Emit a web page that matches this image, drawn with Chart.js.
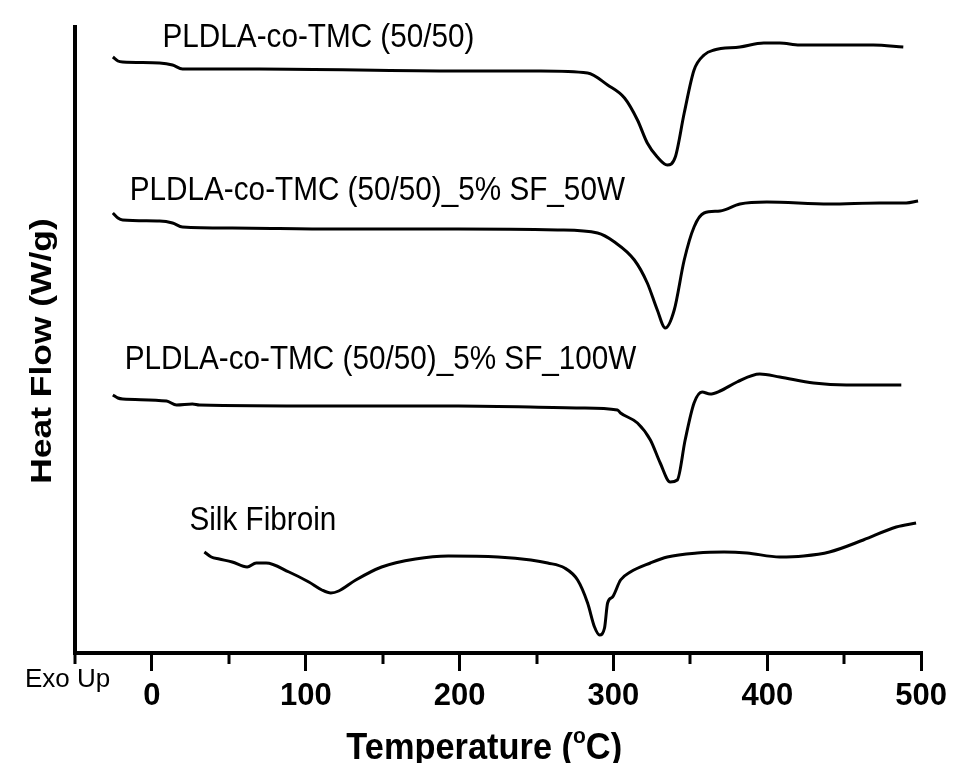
<!DOCTYPE html>
<html>
<head>
<meta charset="utf-8">
<script src="https://cdn.jsdelivr.net/npm/chart.js@4.4.1/dist/chart.umd.min.js"></script>
<style>
html,body{margin:0;padding:0;background:#fff;}
#wrap{width:954px;height:763px;position:relative;}
</style>
</head>
<body>
<div id="wrap"><canvas id="c" width="954" height="763"></canvas></div>
<script>
// ---- Data (Temperature in °C, Heat Flow in arbitrary units, Exo Up) ----
const xMin = -50, xMax = 500;
const yMin = -0.3, yMax = 62.3;
const majorTicks = [0, 100, 200, 300, 400, 500];
const minorTicks = [-50, 50, 150, 250, 350, 450];

const pldlaT  = [-25.4,-22.1,-19.0,5.0,13.4,19.9,69.7,199.1,252.8,283.2,296.2,307.2,315.6,322.0,328.5,335.0,340.2,346.0,352.4,358.9,365.4,382.2,397.7,408.1,421.0,468.9,488.4];
const pldlaHF = [59.3,58.9,58.8,58.7,58.5,58.1,58.1,57.9,57.9,57.7,56.5,55.2,53.0,50.7,49.3,48.5,49.3,53.7,58.0,59.5,60.0,60.3,60.7,60.7,60.5,60.5,60.3];

const sf50T  = [-25.4,-22.1,-19.0,5.0,13.4,19.9,52.2,119.5,199.1,263.8,289.7,300.7,313.6,322.0,328.5,333.7,339.5,346.0,352.4,358.9,369.3,382.2,399.7,440.4,472.8,490.3,498.0];
const sf50HF = [43.7,43.2,43.0,42.9,42.7,42.3,42.2,42.1,42.1,42.0,41.7,40.8,39.0,36.7,34.0,32.2,34.0,39.0,42.3,43.7,43.9,44.6,44.8,44.6,44.7,44.7,44.9];

const sf100T  = [-25.4,-22.1,-19.0,9.5,16.0,26.3,30.9,113.0,199.1,278.7,302.6,304.6,315.6,324.0,330.4,336.9,341.5,346.6,352.4,357.6,362.8,369.3,380.3,395.1,408.1,430.1,451.4,487.1];
const sf100HF = [25.5,25.2,25.1,24.9,24.5,24.6,24.5,24.4,24.4,24.2,24.0,23.7,22.7,21.0,18.7,16.8,17.0,21.0,24.7,25.8,25.6,25.9,26.8,27.6,27.3,26.7,26.5,26.5];

const silkT  = [34.1,38.6,43.8,52.2,61.9,67.8,74.2,89.1,102.0,110.5,116.3,121.4,132.5,149.3,171.3,192.6,225.0,246.3,257.3,268.3,276.7,283.2,287.7,291.0,294.2,296.2,299.4,304.6,311.0,324.0,335.0,354.4,371.9,386.8,408.1,423.6,440.4,462.4,483.8,496.7];
const silkHF = [9.8,9.3,9.1,8.8,8.3,8.7,8.7,7.8,6.8,6.0,5.7,5.9,7.0,8.3,9.1,9.4,9.3,9.0,8.7,8.2,7.0,4.7,2.3,1.5,2.2,4.7,5.3,7.0,7.8,8.7,9.3,9.7,9.8,9.7,9.3,9.4,9.8,11.0,12.3,12.7];

const seriesNames = ["PLDLA-co-TMC (50/50)", "PLDLA-co-TMC (50/50)_5% SF_50W", "PLDLA-co-TMC (50/50)_5% SF_100W", "Silk Fibroin"];
// label anchor (left edge / baseline) in data units
const labelT  = [6.9, -14.4, -17.7, 24.4];
const labelHF = [60.3, 45.0, 28.1, 12.0];

const xTitle = "Temperature (";
const yTitle = "Heat Flow (W/g)";
const cornerNote = "Exo Up";

function pts(xs, ys){ return xs.map((v,i)=>({x:v, y:ys[i]})); }

const FAMILY = '"Liberation Sans", Arial, Helvetica, sans-serif';

function stretchedText(ctx, text, px, py, font, sx, align){
  ctx.save();
  ctx.font = font;
  ctx.textBaseline = 'alphabetic';
  ctx.textAlign = 'left';
  const w = ctx.measureText(text).width * sx;
  let left = px;
  if (align === 'center') left = px - w/2;
  ctx.translate(left, py);
  ctx.scale(sx, 1);
  ctx.fillText(text, 0, 0);
  ctx.restore();
}

const annotate = {
  id: 'annotate',
  afterDraw(chart){
    const ctx = chart.ctx;
    const xs = chart.scales.x, ys = chart.scales.y;
    const area = chart.chartArea;
    ctx.save();
    ctx.fillStyle = '#000';
    ctx.strokeStyle = '#000';
    // minor ticks
    ctx.lineWidth = 3;
    minorTicks.forEach(v=>{
      const px = Math.round(xs.getPixelForValue(v));
      ctx.beginPath();
      ctx.moveTo(px, area.bottom);
      ctx.lineTo(px, area.bottom + 11);
      ctx.stroke();
    });
    // series labels
    const lf = `33px ${FAMILY}`;
    seriesNames.forEach((t,i)=>{
      stretchedText(ctx, t, xs.getPixelForValue(labelT[i]), ys.getPixelForValue(labelHF[i]), lf, 0.9, 'left');
    });
    // Exo Up
    stretchedText(ctx, cornerNote, 25, area.bottom + 34, `26px ${FAMILY}`, 1.0, 'left');
    // x title with superscript o
    {
      const F = 36, sx = 0.955;
      const big = `bold ${F}px ${FAMILY}`;
      const small = `bold ${Math.round(F*0.6)}px ${FAMILY}`;
      ctx.font = big;
      const w1 = ctx.measureText(xTitle).width;
      const w3 = ctx.measureText('C)').width;
      ctx.font = small;
      const w2 = ctx.measureText('o').width;
      const total = (w1 + w2 + w3) * sx;
      const cx = xs.getPixelForValue(216);
      ctx.save();
      ctx.translate(cx - total/2, area.bottom + 106);
      ctx.scale(sx, 1);
      ctx.textBaseline = 'alphabetic';
      ctx.textAlign = 'left';
      ctx.font = big; ctx.fillText(xTitle, 0, 0);
      ctx.font = small; ctx.fillText('o', w1, -F*0.45);
      ctx.font = big; ctx.fillText('C)', w1 + w2, 0);
      ctx.restore();
    }
    // y title, rotated and stretched along its length
    {
      ctx.save();
      ctx.translate(area.left - 32, ys.getPixelForValue(29.9));
      ctx.rotate(-Math.PI/2);
      ctx.scale(1.18, 1);
      ctx.font = `bold 30px ${FAMILY}`;
      ctx.textAlign = 'center';
      ctx.textBaseline = 'middle';
      ctx.fillText(yTitle, 0, 0);
      ctx.restore();
    }
    ctx.restore();
  }
};

const lineStyle = {showLine:true, borderColor:'#000', backgroundColor:'#000', borderWidth:3, pointRadius:0, fill:false, cubicInterpolationMode:'monotone'};

new Chart(document.getElementById('c'), {
  type: 'scatter',
  data: {
    datasets: [
      Object.assign({label: seriesNames[0], data: pts(pldlaT, pldlaHF)}, lineStyle),
      Object.assign({label: seriesNames[1], data: pts(sf50T, sf50HF)}, lineStyle),
      Object.assign({label: seriesNames[2], data: pts(sf100T, sf100HF)}, lineStyle),
      Object.assign({label: seriesNames[3], data: pts(silkT, silkHF)}, lineStyle)
    ]
  },
  options: {
    responsive: false,
    animation: false,
    devicePixelRatio: 1,
    layout: {padding: {left: 0, right: 29, top: 27, bottom: 0}},
    plugins: {legend: {display:false}, tooltip: {enabled:false}},
    scales: {
      x: {
        type: 'linear', min: xMin, max: xMax,
        afterFit: s => { s.height = 110; },
        border: {display:true, color:'#000', width:4},
        grid: {display:true, drawOnChartArea:false, drawTicks:true, tickLength:18, lineWidth:3,
               tickColor: c => (c.tick && majorTicks.includes(c.tick.value)) ? '#000' : 'rgba(0,0,0,0)'},
        ticks: {stepSize:50, autoSkip:false, maxRotation:0, padding:7, color:'#000',
                font:{family:'"Liberation Sans", Arial, sans-serif', size:31, weight:'bold'},
                callback: v => majorTicks.includes(v) ? String(v) : ''}
      },
      y: {
        type: 'linear', min: yMin, max: yMax,
        afterFit: s => { s.width = 75; },
        border: {display:true, color:'#000', width:4},
        grid: {display:false},
        ticks: {display:false}
      }
    }
  },
  plugins: [annotate]
});
</script>
</body>
</html>
